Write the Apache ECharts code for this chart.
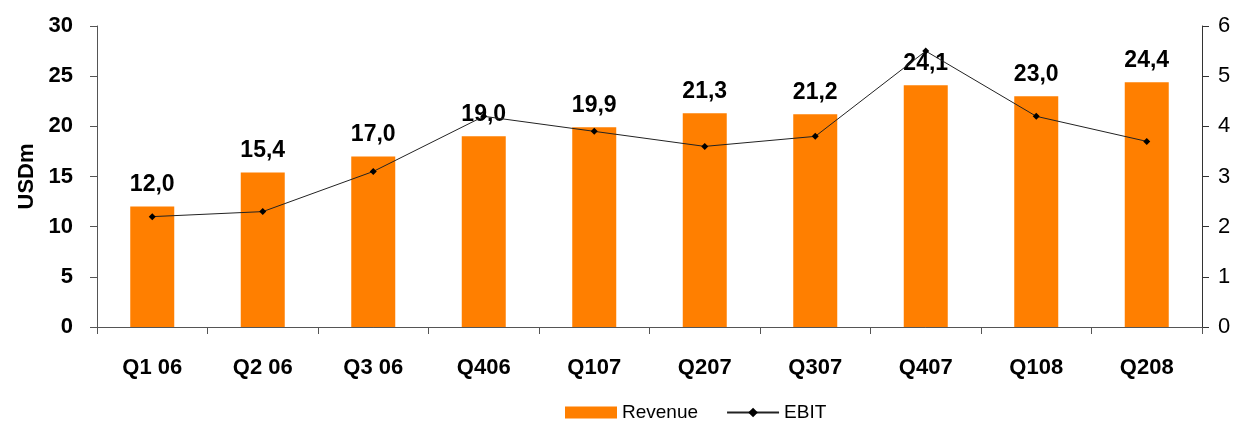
<!DOCTYPE html>
<html><head><meta charset="utf-8">
<script src="https://cdn.jsdelivr.net/npm/echarts@6/dist/echarts.min.js"></script>
<style>html,body{margin:0;padding:0;background:#fff}#c{width:1236px;height:421px}</style>
</head><body><div id="c"></div>
<script>
const categories = ['Q1 06','Q2 06','Q3 06','Q406','Q107','Q207','Q307','Q407','Q108','Q208'];
const revenue = [12.0,15.4,17.0,19.0,19.9,21.3,21.2,24.1,23.0,24.4];
const ebit = [2.2,2.3,3.1,4.2,3.9,3.6,3.8,5.5,4.2,3.7];
const leftTicks = [0,5,10,15,20,25,30];
const rightTicks = [0,1,2,3,4,5,6];

const chart = echarts.init(document.getElementById('c'));
const F = 'Liberation Sans, Arial, sans-serif';
chart.setOption({
  animation:false,
  textStyle:{fontFamily:F},
  grid:{left:97,right:34,top:26,bottom:94},
  legend:{
    top:398, left:560, itemGap:28, itemWidth:52, itemHeight:12,
    textStyle:{fontFamily:F,fontSize:19,color:'#000'},
    data:[{name:'Revenue',icon:'rect'},{name:'EBIT'}]
  },
  xAxis:{
    type:'category', data:categories, boundaryGap:true,
    axisLine:{lineStyle:{color:'#555',width:1}},
    axisTick:{show:true,length:7,lineStyle:{color:'#555'}},
    axisLabel:{fontFamily:F,fontSize:22,fontWeight:'bold',color:'#000',margin:30}
  },
  yAxis:[{
    type:'value', min:leftTicks[0], max:leftTicks[leftTicks.length-1], interval:5,
    name:'USDm', nameLocation:'middle', nameGap:57, nameRotate:90,
    nameTextStyle:{fontFamily:F,fontSize:22,fontWeight:'bold',color:'#000'},
    axisLine:{show:true,lineStyle:{color:'#555'}},
    axisTick:{show:true,length:7,lineStyle:{color:'#555'}},
    splitLine:{show:false},
    axisLabel:{fontFamily:F,fontSize:22,fontWeight:'bold',color:'#000',margin:24}
  },{
    type:'value', min:rightTicks[0], max:rightTicks[rightTicks.length-1], interval:1,
    position:'right',
    axisLine:{show:true,lineStyle:{color:'#333'}},
    axisTick:{show:true,length:7,lineStyle:{color:'#333'}},
    splitLine:{show:false},
    axisLabel:{fontFamily:F,fontSize:22,color:'#000',margin:16}
  }],
  series:[{
    name:'Revenue', type:'bar', data:revenue, barWidth:44, yAxisIndex:0,
    itemStyle:{color:'#FF7F00'},
    label:{show:true,position:'top',distance:10,fontFamily:F,fontSize:23,fontWeight:'bold',color:'#000',
      formatter:p=>p.value.toFixed(1).replace('.',',')}
  },{
    name:'EBIT', type:'line', data:ebit, yAxisIndex:1,
    symbol:'diamond', symbolSize:7,
    lineStyle:{color:'#222',width:1},
    itemStyle:{color:'#000'}
  }]
});
</script></body></html>
